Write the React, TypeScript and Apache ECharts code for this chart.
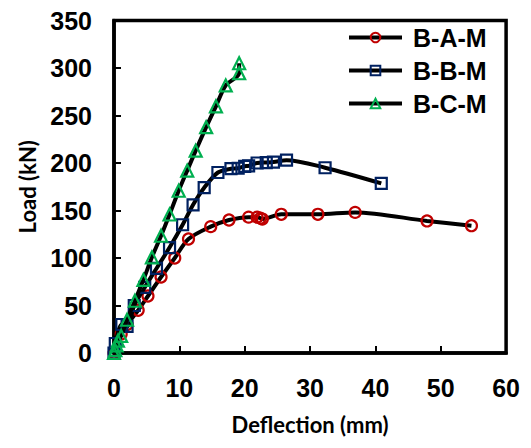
import React, { useEffect, useRef } from "react";
import * as echarts from "echarts";

const seriesNames = ["B-A-M", "B-B-M", "B-C-M"];

const bamData: [number, number][] = [
  [0, 0], [1.1, 20], [2.0, 30], [3.7, 45], [5.2, 60], [7.2, 80], [9.3, 100],
  [11.4, 120], [14.8, 133], [17.6, 140], [20.6, 143], [21.9, 143], [22.4, 142],
  [22.7, 141], [25.6, 146], [31.2, 146], [36.9, 148], [47.9, 139], [54.7, 134],
];

const bbmData: [number, number][] = [
  [0, 0], [0.2, 10], [1.2, 30], [2.0, 28], [3.1, 50], [4.7, 69], [6.5, 89],
  [8.5, 111], [10.5, 135], [12.1, 156], [13.8, 174], [15.9, 190], [17.9, 194],
  [19.0, 194.5], [20.0, 196.5], [20.6, 197], [21.9, 200], [23.3, 200.5],
  [24.4, 201], [26.4, 203], [32.3, 195], [40.9, 178.5],
];

const bcmData: [number, number][] = [
  [0, 0], [0.2, 3], [0.4, 8], [0.6, 13], [1.1, 18], [2.0, 35], [3.2, 55],
  [4.5, 77], [5.8, 100.7], [7.2, 123.4], [8.5, 145.8], [9.9, 170.8],
  [11.2, 192], [12.5, 213], [14.1, 237.7], [15.6, 259.7], [17.1, 281.7],
  [19.15, 294.5], [19.15, 305],
];

const markerColors = ["#c00000", "#002060", "#00b050"];
const markerShapes = ["circle", "rect", "triangle"];

const xTicks = { min: 0, max: 60, interval: 10 };
const yTicks = { min: 0, max: 350, interval: 50 };

export default function App() {
  const ref = useRef<HTMLDivElement>(null);
  useEffect(() => {
    if (!ref.current) return;
    const chart = echarts.init(ref.current, undefined, { renderer: "svg" });
    const datas = [bamData, bbmData, bcmData];
    const tickFont = {
      fontFamily: "Liberation Sans, Arial, sans-serif",
      fontWeight: "bold" as const,
      fontSize: 25,
      color: "#000",
    };
    const nameFont = {
      fontFamily: "Lato, sans-serif",
      fontWeight: "bold" as const,
      fontSize: 22,
      color: "#000",
    };
    chart.setOption({
      animation: false,
      backgroundColor: "#fff",
      grid: {
        left: 98,
        right: 15,
        top: 8,
        bottom: 79,
        show: true,
        borderColor: "#000",
        borderWidth: 3.5,
        containLabel: false,
      },
      legend: {
        data: seriesNames,
        orient: "vertical",
        left: 339,
        top: 17,
        padding: 0,
        itemWidth: 53,
        itemHeight: 12,
        itemGap: 8,
        lineStyle: { width: 4, color: "#000" },
        textStyle: {
          fontFamily: "Liberation Sans, Arial, sans-serif",
          fontWeight: "bold",
          fontSize: 25,
          color: "#000",
          padding: [0, 0, 0, 6],
        },
      },
      xAxis: {
        type: "value",
        min: xTicks.min,
        max: xTicks.max,
        interval: xTicks.interval,
        name: "Deflection (mm)",
        nameLocation: "middle",
        nameGap: 60,
        nameTextStyle: nameFont,
        axisLine: { show: true, onZero: false, lineStyle: { color: "#000", width: 3.5 } },
        axisTick: { show: true, inside: true, length: 7, lineStyle: { color: "#000", width: 2 } },
        axisLabel: { ...tickFont, margin: 22 },
        splitLine: { show: false },
      },
      yAxis: {
        type: "value",
        min: yTicks.min,
        max: yTicks.max,
        interval: yTicks.interval,
        name: "Load (kN)",
        nameLocation: "middle",
        nameGap: 76,
        nameRotate: 90,
        nameTextStyle: nameFont,
        axisLine: { show: true, lineStyle: { color: "#000", width: 3.5 } },
        axisTick: { show: true, inside: true, length: 7, lineStyle: { color: "#000", width: 2 } },
        axisLabel: { ...tickFont, margin: 22 },
        splitLine: { show: false },
      },
      series: datas.map((d, i) => ({
        name: seriesNames[i],
        type: "line",
        data: d,
        smooth: 0.3,
        symbol: markerShapes[i],
        symbolSize: i === 2 ? 12 : 11,
        showAllSymbol: true,
        lineStyle: { color: "#000", width: 4 },
        itemStyle: {
          color: "rgba(0,0,0,0)",
          borderColor: markerColors[i],
          borderWidth: 2.2,
        },
        emphasis: { disabled: true },
        z: 2 + i,
      })),
    });
    return () => chart.dispose();
  }, []);
  return <div ref={ref} style={{ width: 515, height: 432 }} />;
}
